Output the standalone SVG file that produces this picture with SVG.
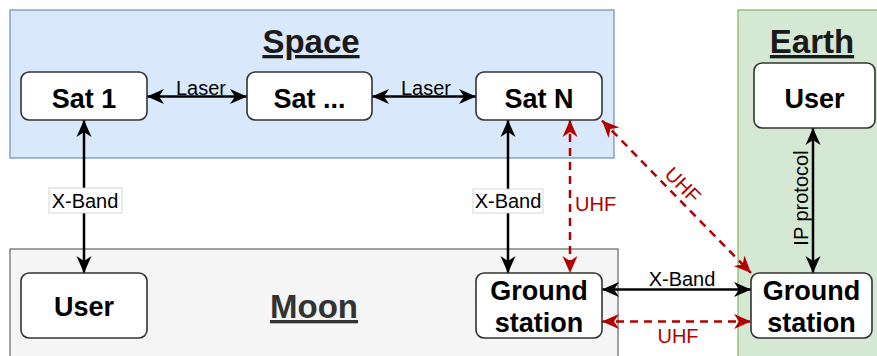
<svg xmlns="http://www.w3.org/2000/svg" width="877" height="356" viewBox="0 0 877 356">
<defs>
<marker id="ab" markerUnits="userSpaceOnUse" markerWidth="18" markerHeight="16" refX="17" refY="8" orient="auto-start-reverse" viewBox="0 0 18 16">
<path d="M17,8 L0,0.5 L5,8 L0,15.5 Z" fill="#000"/>
</marker>
<marker id="ar" markerUnits="userSpaceOnUse" markerWidth="18" markerHeight="16" refX="17" refY="8" orient="auto-start-reverse" viewBox="0 0 18 16">
<path d="M17,8 L0,0.5 L5,8 L0,15.5 Z" fill="#b20000"/>
</marker>
</defs>
<style>
.node rect{fill:#fff;stroke:#333;stroke-width:1.6}
.nt{font-family:"Liberation Sans",Arial,sans-serif;font-weight:bold;font-size:27px;text-anchor:middle;fill:#000}
.title{font-family:"Liberation Sans",Arial,sans-serif;font-weight:bold;font-size:33px;text-anchor:middle;text-decoration:underline}
.lbl{font-family:"Liberation Sans",Arial,sans-serif;font-size:20px;fill:#000}
.rl{font-family:"Liberation Sans",Arial,sans-serif;font-size:20px;fill:#b20000}
.bl{stroke:#000;stroke-width:2.5;fill:none;marker-start:url(#ab);marker-end:url(#ab)}
.rd{stroke:#b20000;stroke-width:2.5;fill:none;stroke-dasharray:8 6;marker-start:url(#ar);marker-end:url(#ar)}
</style>
<g id="containers">
<g id="space"><rect x="10" y="10" width="604" height="148" fill="#dae8fc" stroke="#6c8ebf" stroke-width="1.2"/>
<text class="title" x="311" y="53" fill="#1a1a1a">Space</text></g>
<g id="earth"><rect x="738" y="10" width="145" height="360" fill="#d5e8d4" stroke="#82b366" stroke-width="1.2"/>
<text class="title" x="812" y="53" fill="#1a1a1a">Earth</text></g>
<g id="moon"><rect x="10" y="249" width="608" height="120" fill="#f5f5f5" stroke="#666" stroke-width="1.2"/>
<text class="title" x="314" y="318" fill="#333">Moon</text></g>
</g>
<g id="connectors">
<line class="bl" x1="147" y1="96.5" x2="247" y2="96.5"/>
<text class="lbl" x="201" y="95" text-anchor="middle">Laser</text>
<line class="bl" x1="372" y1="96.5" x2="476" y2="96.5"/>
<text class="lbl" x="426" y="95" text-anchor="middle">Laser</text>
<line class="bl" x1="84" y1="120" x2="84" y2="273"/>
<rect x="49" y="188" width="73" height="25" fill="#fff" stroke="#ccc" stroke-width="0.8"/>
<text class="lbl" x="85" y="207.5" text-anchor="middle">X-Band</text>
<line class="bl" x1="508" y1="120" x2="508" y2="273"/>
<rect x="473" y="189" width="70" height="24" fill="#fff" stroke="#ccc" stroke-width="0.8"/>
<text class="lbl" x="508" y="208" text-anchor="middle">X-Band</text>
<line class="rd" x1="570" y1="120" x2="570" y2="273"/>
<text class="rl" x="575" y="211">UHF</text>
<line class="rd" x1="602" y1="120.5" x2="751" y2="273"/>
<text class="rl" x="683" y="192" text-anchor="middle" transform="rotate(45.6 683 185)">UHF</text>
<line class="bl" x1="813" y1="128" x2="813" y2="273"/>
<text class="lbl" x="0" y="0" text-anchor="middle" transform="translate(807.5 198) rotate(-90)">IP protocol</text>
<line class="bl" x1="602" y1="289.5" x2="751" y2="289.5"/>
<text class="lbl" x="682" y="286" text-anchor="middle">X-Band</text>
<line class="rd" x1="602" y1="321.5" x2="751" y2="321.5"/>
<text class="rl" x="678" y="342.5" text-anchor="middle">UHF</text>
</g>
<g id="sat1" class="node"><rect x="21" y="72" width="126" height="48" rx="8"/><text class="nt" x="84" y="107.5">Sat 1</text></g>
<g id="satdots" class="node"><rect x="247" y="72" width="125" height="48" rx="8"/><text class="nt" x="309.5" y="107.5">Sat ...</text></g>
<g id="satn" class="node"><rect x="476" y="72" width="126" height="48" rx="8"/><text class="nt" x="539" y="107.5">Sat N</text></g>
<g id="earthuser" class="node"><rect x="754" y="63" width="121" height="65" rx="8"/><text class="nt" x="814.5" y="107.5">User</text></g>
<g id="moonuser" class="node"><rect x="21" y="273" width="126" height="65" rx="8"/><text class="nt" x="84" y="316">User</text></g>
<g id="moongs" class="node"><rect x="476" y="273" width="126" height="65" rx="8"/><text class="nt" x="539" y="299.5">Ground</text><text class="nt" x="539" y="332">station</text></g>
<g id="earthgs" class="node"><rect x="751" y="273" width="121" height="65" rx="8"/><text class="nt" x="811.5" y="299.5">Ground</text><text class="nt" x="811.5" y="332">station</text></g>
</svg>
